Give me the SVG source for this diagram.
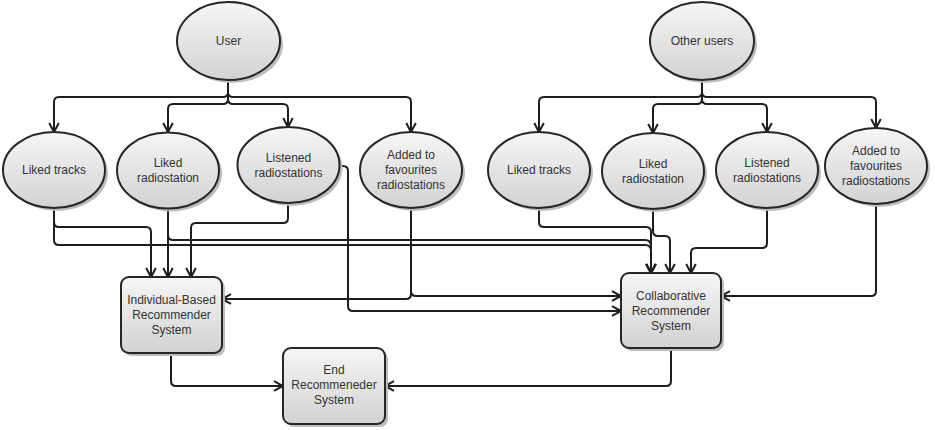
<svg xmlns="http://www.w3.org/2000/svg" width="935" height="430" viewBox="0 0 935 430">
  <defs>
    <linearGradient id="nodeFill" x1="0" y1="0" x2="0" y2="1">
      <stop offset="0" stop-color="#f6f6f6"/>
      <stop offset="1" stop-color="#d2d2d2"/>
    </linearGradient>
    <marker id="arrow" markerUnits="userSpaceOnUse" markerWidth="14" markerHeight="14" refX="11" refY="7" orient="auto">
      <path d="M2,2.2 L11,7 L2,11.8" fill="none" stroke="#1e1e1e" stroke-width="2" stroke-linejoin="miter"/>
    </marker>
  </defs>
  <style>
    .shadow { fill: #bdbdbd; }
    .node { fill: url(#nodeFill); stroke: #262626; stroke-width: 2; }
    .label { font-family: "Liberation Sans", Arial, sans-serif; font-size: 12px; fill: #333333; text-anchor: middle; }
    .link { fill: none; stroke: #1e1e1e; stroke-width: 2; marker-end: url(#arrow); }
  </style>

  <rect width="935" height="430" fill="#ffffff"/>

  <!-- connectors -->
  <g id="connectors">
    <!-- User fan-out -->
    <path class="link" d="M228,80 V92 Q228,97 223,97 H59 Q54,97 54,102 V132"/>
    <path class="link" d="M228,80 V99 Q228,104 223,104 H173 Q168,104 168,109 V132"/>
    <path class="link" d="M228,80 V99 Q228,104 233,104 H283 Q288,104 288,109 V127"/>
    <path class="link" d="M228,80 V92 Q228,97 233,97 H406 Q411,97 411,102 V132"/>
    <!-- Other users fan-out -->
    <path class="link" d="M702,80 V92 Q702,97 697,97 H544 Q539,97 539,102 V132"/>
    <path class="link" d="M702,80 V99 Q702,104 697,104 H658 Q653,104 653,109 V133"/>
    <path class="link" d="M702,80 V99 Q702,104 707,104 H762 Q767,104 767,109 V132"/>
    <path class="link" d="M702,80 V92 Q702,97 707,97 H871 Q876,97 876,102 V128"/>

    <!-- user preferences into the individual-based system -->
    <path class="link" d="M54,208 V222 Q54,227 59,227 H146 Q151,227 151,232 V277"/>
    <path class="link" d="M168,208 V277"/>
    <path class="link" d="M288,203 V218 Q288,223 283,223 H196 Q191,223 191,228 V277"/>
    <path class="link" d="M411,208 V294 Q411,299 406,299 H222"/>

    <!-- user preferences into the collaborative system -->
    <path class="link" d="M54,208 V240 Q54,245 59,245 H645 Q651,245 651,251 V273"/>
    <path class="link" d="M168,208 V235 Q168,240 173,240 H645 Q651,240 651,246 V273"/>
    <path class="link" d="M340,166 H343 Q348,166 348,171 V306 Q348,311 353,311 H621"/>
    <path class="link" d="M411,208 V291 Q411,296 416,296 H621"/>

    <!-- other users' preferences into the collaborative system -->
    <path class="link" d="M539,208 V222 Q539,227 544,227 H646 Q651,227 651,232 V273"/>
    <path class="link" d="M653,209 V231 Q653,236 658,236 H665 Q670,236 670,241 V273"/>
    <path class="link" d="M767,208 V243 Q767,248 762,248 H696 Q691,248 691,253 V273"/>
    <path class="link" d="M876,204 V291 Q876,296 871,296 H721"/>

    <!-- both systems into the end recommender -->
    <path class="link" d="M171,353 V381 Q171,386 176,386 H283"/>
    <path class="link" d="M671,348 V381 Q671,386 666,386 H385"/>
  </g>

  <!-- sources -->
  <g id="user">
    <ellipse class="shadow" cx="231.5" cy="44" rx="51.5" ry="39"/>
    <ellipse class="node" cx="228.5" cy="41" rx="51.5" ry="39"/>
    <text class="label" x="228.5" y="44.5">User</text>
  </g>
  <g id="other-users">
    <ellipse class="shadow" cx="705" cy="44" rx="52" ry="39"/>
    <ellipse class="node" cx="702" cy="41" rx="52" ry="39"/>
    <text class="label" x="702" y="45">Other users</text>
  </g>

  <!-- user's preferences -->
  <g id="user-liked-tracks">
    <ellipse class="shadow" cx="57" cy="173" rx="51" ry="38"/>
    <ellipse class="node" cx="54" cy="170" rx="51" ry="38"/>
    <text class="label" x="54" y="173.5">Liked tracks</text>
  </g>
  <g id="user-liked-radiostation">
    <ellipse class="shadow" cx="171" cy="173.5" rx="51" ry="38"/>
    <ellipse class="node" cx="168" cy="170.5" rx="51" ry="38"/>
    <text class="label" x="168" y="167">Liked</text>
    <text class="label" x="168" y="182">radiostation</text>
  </g>
  <g id="user-listened-radiostations">
    <ellipse class="shadow" cx="291.5" cy="168" rx="51" ry="38"/>
    <ellipse class="node" cx="288.5" cy="165" rx="51" ry="38"/>
    <text class="label" x="288.5" y="161.5">Listened</text>
    <text class="label" x="288.5" y="176.5">radiostations</text>
  </g>
  <g id="user-favourite-radiostations">
    <ellipse class="shadow" cx="414" cy="173" rx="51" ry="38"/>
    <ellipse class="node" cx="411" cy="170" rx="51" ry="38"/>
    <text class="label" x="411" y="159">Added to</text>
    <text class="label" x="411" y="174">favourites</text>
    <text class="label" x="411" y="189">radiostations</text>
  </g>

  <!-- other users' preferences -->
  <g id="others-liked-tracks">
    <ellipse class="shadow" cx="542" cy="173" rx="51" ry="38"/>
    <ellipse class="node" cx="539" cy="170" rx="51" ry="38"/>
    <text class="label" x="539" y="173.5">Liked tracks</text>
  </g>
  <g id="others-liked-radiostation">
    <ellipse class="shadow" cx="656" cy="174" rx="51" ry="38"/>
    <ellipse class="node" cx="653" cy="171" rx="51" ry="38"/>
    <text class="label" x="653" y="167.5">Liked</text>
    <text class="label" x="653" y="182.5">radiostation</text>
  </g>
  <g id="others-listened-radiostations">
    <ellipse class="shadow" cx="770" cy="173" rx="51" ry="38"/>
    <ellipse class="node" cx="767" cy="170" rx="51" ry="38"/>
    <text class="label" x="767" y="167">Listened</text>
    <text class="label" x="767" y="182">radiostations</text>
  </g>
  <g id="others-favourite-radiostations">
    <ellipse class="shadow" cx="879" cy="169" rx="51" ry="38"/>
    <ellipse class="node" cx="876" cy="166" rx="51" ry="38"/>
    <text class="label" x="876" y="155">Added to</text>
    <text class="label" x="876" y="170">favourites</text>
    <text class="label" x="876" y="185">radiostations</text>
  </g>

  <!-- recommender systems -->
  <g id="individual-based">
    <rect class="shadow" x="124" y="280" width="101" height="76" rx="8"/>
    <rect class="node" x="121" y="277" width="101" height="76" rx="8"/>
    <text class="label" x="171.5" y="304">Individual-Based</text>
    <text class="label" x="171.5" y="319">Recommender</text>
    <text class="label" x="171.5" y="334">System</text>
  </g>
  <g id="collaborative">
    <rect class="shadow" x="624" y="276" width="100" height="75" rx="8"/>
    <rect class="node" x="621" y="273" width="100" height="75" rx="8"/>
    <text class="label" x="671" y="300">Collaborative</text>
    <text class="label" x="671" y="315">Recommender</text>
    <text class="label" x="671" y="330">System</text>
  </g>
  <g id="end-recommender">
    <rect class="shadow" x="286" y="351" width="102" height="76" rx="8"/>
    <rect class="node" x="283" y="348" width="102" height="76" rx="8"/>
    <text class="label" x="334" y="374">End</text>
    <text class="label" x="334" y="389">Recommeneder</text>
    <text class="label" x="334" y="404">System</text>
  </g>
</svg>
